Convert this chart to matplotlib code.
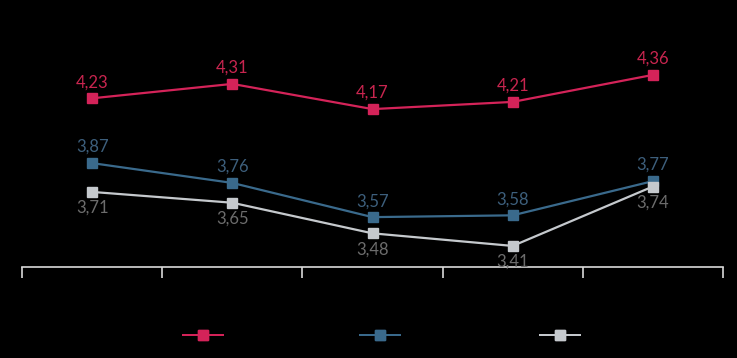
import matplotlib
matplotlib.use("Agg")
import matplotlib.pyplot as plt
from matplotlib.lines import Line2D

# ---------------- data ----------------
categories = ["1", "2", "3", "4", "5"]
series_names = ["Serie 1", "Serie 2", "Serie 3"]
red_vals = [4.23, 4.31, 4.17, 4.21, 4.36]
blue_vals = [3.87, 3.76, 3.57, 3.58, 3.77]
grey_vals = [3.71, 3.65, 3.48, 3.41, 3.74]

plt.rcParams['font.family'] = ['Lato', 'DejaVu Sans']

fig = plt.figure(figsize=(7.37, 3.58), dpi=100, facecolor="black")
ax = fig.add_axes([22 / 737, 91 / 358, 701 / 737, 267 / 358])
ax.set_facecolor("black")

x = list(range(len(categories)))
styles = [
    (red_vals, "#D42359", "#C8254F", 16),
    (blue_vals, "#3A6A8C", "#3D5F7C", 16),
    (grey_vals, "#C5C9CD", "#6C6C6C", -16),
]
for vals, col, tcol, off in styles:
    ax.plot(x, vals, color=col, lw=1.6, marker="s", ms=6.8, mec=col, mfc=col)
    for xi, v in zip(x, vals):
        ax.annotate(f"{v:.2f}".replace(".", ","), (xi, v), xytext=(0, off),
                    textcoords="offset pixels", ha="center", va="center",
                    color=tcol, fontsize=12)

ax.set_xlim(-0.5, len(categories) - 0.5)
ax.set_ylim(3.293, 4.776)
for s in ["top", "right", "left"]:
    ax.spines[s].set_visible(False)
ax.spines["bottom"].set_color("#D9D9D9")
ax.spines["bottom"].set_linewidth(1.2)
ax.set_yticks([])
ax.set_xticks([i - 0.5 for i in range(len(categories) + 1)])
ax.set_xticklabels([])
ax.tick_params(axis="x", colors="#D9D9D9", length=8, width=1.2, direction="out")

# legend: markers only, no visible text as in the reference
handles = [Line2D([], [], color=c, lw=1.4, marker="s", ms=6.8) for _, c, _, _ in styles]
for h, xpos in zip(handles, [203, 380, 560]):
    leg = fig.legend([h], [""], loc="center", bbox_to_anchor=(xpos / 737, 1 - 336 / 358),
                     frameon=False, handlelength=2.6, handletextpad=0, fontsize=11)
    fig.add_artist(leg)

fig.savefig("out.png", dpi=100, facecolor="black")
